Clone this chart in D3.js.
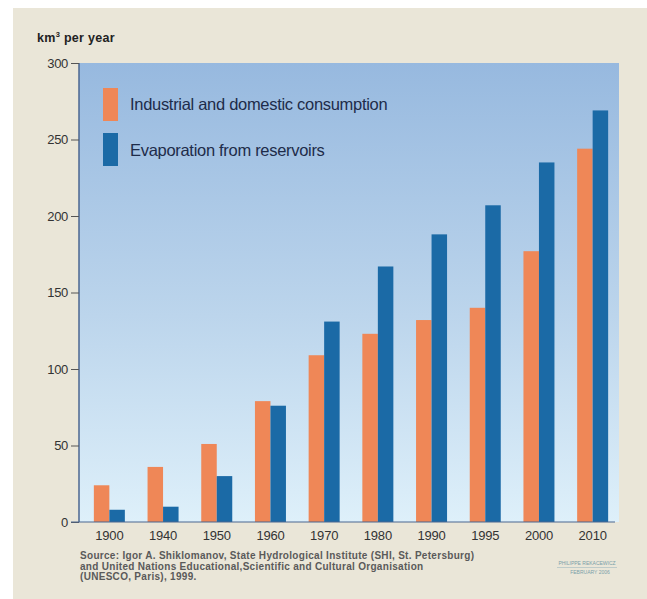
<!DOCTYPE html>
<html>
<head>
<meta charset="utf-8">
<script src="https://cdn.jsdelivr.net/npm/d3@7"></script>
<style>
  body { margin: 0; background: #fff; }
  text { font-family: "Liberation Sans", Arial, sans-serif; }
</style>
</head>
<body>
<div id="chart"></div>
<script>
const years = ['1900', '1940', '1950', '1960', '1970', '1980', '1990', '1995', '2000', '2010']
const consumption = [24, 36, 51, 79, 109, 123, 132, 140, 177, 244]
const evaporation = [8, 10, 30, 76, 131, 167, 188, 207, 235, 269]
const yTicks = [0, 50, 100, 150, 200, 250, 300]
const seriesNames = ['Industrial and domestic consumption', 'Evaporation from reservoirs']
const colors = ['#ef8757', '#1b6aa6']

const W = 647
const H = 599
const plot = { left: 79, right: 619, top: 63, bottom: 522 }

const svg = d3.select('#chart').append('svg')
  .attr('width', W)
  .attr('height', H)

const defs = svg.append('defs')
const grad = defs.append('linearGradient')
  .attr('id', 'sky')
  .attr('x1', 0).attr('y1', 0).attr('x2', 0).attr('y2', 1)
grad.append('stop').attr('offset', '0%').attr('stop-color', '#97b9df')
grad.append('stop').attr('offset', '55%').attr('stop-color', '#bcd5ec')
grad.append('stop').attr('offset', '100%').attr('stop-color', '#def0fa')

// beige page
svg.append('rect')
  .attr('x', 13).attr('y', 8)
  .attr('width', W - 13).attr('height', H - 8)
  .attr('fill', '#eae6d8')

// plot background
svg.append('rect')
  .attr('x', plot.left).attr('y', plot.top)
  .attr('width', plot.right - plot.left)
  .attr('height', plot.bottom - plot.top)
  .attr('fill', 'url(#sky)')

const x = d3.scaleBand().domain(years).range([82.5, 619.5]).padding(0)
const yScale = d3.scaleLinear().domain([0, 300]).range([plot.bottom, plot.top])
const subW = 15.5

const rows = years.map((yr, i) => ({ year: yr, values: [consumption[i], evaporation[i]] }))

const groups = svg.append('g')
  .selectAll('g')
  .data(rows)
  .join('g')
  .attr('transform', d => 'translate(' + (x(d.year) + x.bandwidth() / 2) + ',0)')

groups.selectAll('rect')
  .data(d => d.values.map((v, k) => ({ v, k })))
  .join('rect')
  .attr('x', d => d.k === 0 ? -subW : 0)
  .attr('width', subW)
  .attr('y', d => yScale(d.v))
  .attr('height', d => yScale(0) - yScale(d.v))
  .attr('fill', d => colors[d.k])

// y axis
const yAxis = d3.axisLeft(yScale).tickValues(yTicks).tickSize(8).tickPadding(3)
const yg = svg.append('g')
  .attr('transform', 'translate(' + plot.left + ',0)')
  .call(yAxis)
yg.select('.domain').attr('stroke', '#4b6690').attr('stroke-width', 1.5).attr('d', 'M0,' + plot.top + 'V' + plot.bottom)
yg.selectAll('.tick line').attr('stroke', '#555')
yg.selectAll('.tick text').attr('fill', '#333').attr('font-size', 13).attr('letter-spacing', -0.3)

// x axis
const xAxis = d3.axisBottom(x).tickSize(0).tickPadding(9)
const xg = svg.append('g')
  .attr('transform', 'translate(0,' + plot.bottom + ')')
  .call(xAxis)
xg.select('.domain').attr('stroke', '#4b6690').attr('stroke-width', 1.2).attr('d', 'M' + (plot.left - 8) + ',0H615')
xg.selectAll('.tick text').attr('fill', '#333').attr('font-size', 13).attr('letter-spacing', -0.2)

// unit label
const unit = svg.append('text')
  .attr('x', 37).attr('y', 42)
  .attr('font-size', 12.5).attr('font-weight', 700).attr('fill', '#222').attr('letter-spacing', 0.3)
unit.append('tspan').text('km')
unit.append('tspan').text('3').attr('font-size', 7.5).attr('dy', -5)
unit.append('tspan').text(' per year').attr('dy', 5)

// legend
const legend = svg.append('g')
seriesNames.forEach((name, k) => {
  legend.append('rect')
    .attr('x', 103).attr('y', 88 + k * 45)
    .attr('width', 15).attr('height', 33)
    .attr('fill', colors[k])
  legend.append('text')
    .attr('x', 130).attr('y', 106 + k * 46)
    .attr('dominant-baseline', 'middle')
    .attr('font-size', 16.5).attr('fill', '#1e2c4a').attr('letter-spacing', -0.3)
    .text(name)
})

// source
const source = [
  'Source: Igor A. Shiklomanov, State Hydrological Institute (SHI, St. Petersburg)',
  'and United Nations Educational,Scientific and Cultural Organisation',
  '(UNESCO, Paris), 1999.'
]
svg.append('g').selectAll('text')
  .data(source)
  .join('text')
  .attr('x', 80)
  .attr('y', (d, i) => 559 + i * 10.5)
  .attr('font-size', 10).attr('font-weight', 700).attr('fill', '#5a5a5a').attr('letter-spacing', 0.3)
  .text(d => d)

// credit
svg.append('text')
  .attr('x', 587).attr('y', 565).attr('text-anchor', 'middle')
  .attr('font-size', 5).attr('fill', '#7aa0a8').text('PHILIPPE REKACEWICZ')
svg.append('line')
  .attr('x1', 557).attr('x2', 617).attr('y1', 567.5).attr('y2', 567.5)
  .attr('stroke', '#9fb9bf').attr('stroke-width', 0.6)
svg.append('text')
  .attr('x', 590).attr('y', 574).attr('text-anchor', 'middle')
  .attr('font-size', 5).attr('fill', '#7aa0a8').text('FEBRUARY 2006')
</script>
</body>
</html>
